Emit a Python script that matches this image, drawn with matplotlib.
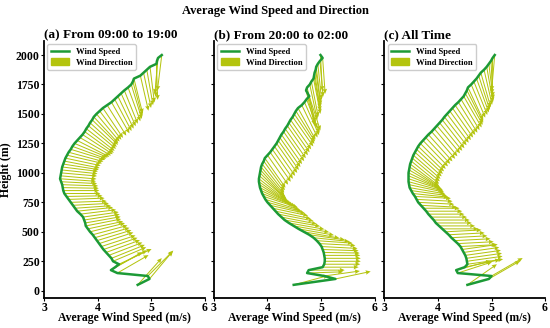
import numpy as np
import matplotlib.pyplot as plt
from matplotlib.lines import Line2D
from matplotlib.patches import Patch

plt.rcParams['font.family'] = ['Liberation Serif', 'DejaVu Serif']
plt.rcParams['font.weight'] = 'bold'
plt.rcParams['axes.labelweight'] = 'bold'
plt.rcParams['axes.titleweight'] = 'bold'

# measurement heights (m)
heights = [50, 100, 125, 150, 175, 200, 225, 250, 275, 300, 325, 350, 375, 400,
           425, 450, 475, 500, 525, 550, 575, 600, 625, 650, 675, 700, 725, 750,
           775, 800, 825, 850, 875, 900, 925, 950, 975, 1000, 1025, 1050, 1075,
           1100, 1125, 1150, 1175, 1200, 1225, 1250, 1275, 1300, 1325, 1350,
           1375, 1400, 1425, 1450, 1475, 1500, 1525, 1550, 1575, 1600, 1625,
           1650, 1675, 1700, 1725, 1750, 1775, 1800, 1825, 1850, 1875, 1900,
           1925, 1950, 1975, 2000]

# (a) 09:00 - 19:00
speed_day = [4.75, 4.97, 4.94, 4.37, 4.25, 4.33, 4.40, 4.29, 4.26, 4.21, 4.16,
             4.11, 4.07, 4.03, 3.99, 3.95, 3.91, 3.86, 3.82, 3.78, 3.77, 3.75,
             3.73, 3.68, 3.62, 3.58, 3.54, 3.50, 3.46, 3.42, 3.38, 3.36, 3.35,
             3.34, 3.32, 3.30, 3.31, 3.32, 3.33, 3.34, 3.36, 3.38, 3.40, 3.43,
             3.46, 3.50, 3.53, 3.57, 3.62, 3.67, 3.72, 3.76, 3.79, 3.83, 3.86,
             3.90, 3.93, 3.98, 4.04, 4.10, 4.18, 4.26, 4.32, 4.38, 4.44, 4.50,
             4.57, 4.63, 4.66, 4.68, 4.80, 4.86, 4.92, 4.98, 5.10, 5.11, 5.13,
             5.20]
dir_day = [222, 220, 225, 240, 240, 242, 245, 247, 248, 249, 250, 251, 252, 252,
           253, 254, 255, 256, 258, 259, 260, 261, 262, 263, 264, 266, 267, 268,
           268, 269, 270, 270, 271, 272, 273, 274, 275, 275, 276, 277, 279, 281,
           282, 283, 285, 287, 290, 293, 297, 300, 303, 306, 308, 310, 312, 314,
           317, 320, 323, 326, 328, 330, 332, 334, 336, 338, 340, 343, 345, 346,
           347, 348, 350, 353, 358, 2, 5, 7]

# (b) 20:00 - 02:00
speed_night = [4.49, 5.27, 5.06, 4.74, 4.77, 5.03, 5.06, 5.07, 5.07, 5.06, 5.05,
               5.03, 5.01, 4.97, 4.92, 4.86, 4.78, 4.68, 4.58, 4.49, 4.40, 4.32,
               4.26, 4.20, 4.15, 4.10, 4.05, 4.00, 3.96, 3.93, 3.90, 3.88, 3.86,
               3.85, 3.84, 3.84, 3.85, 3.86, 3.87, 3.88, 3.90, 3.93, 3.95, 4.00,
               4.05, 4.09, 4.13, 4.17, 4.20, 4.23, 4.26, 4.30, 4.33, 4.37, 4.40,
               4.43, 4.47, 4.50, 4.53, 4.57, 4.64, 4.69, 4.73, 4.78, 4.75, 4.72,
               4.74, 4.79, 4.82, 4.86, 4.87, 4.88, 4.90, 4.91, 4.94, 4.98, 5.03,
               4.99]
dir_night = [255, 258, 262, 268, 270, 270, 270, 270, 270, 270, 271, 272, 273, 273,
             274, 276, 278, 280, 280, 280, 280, 280, 281, 281, 282, 282, 283, 285,
             287, 288, 291, 295, 298, 302, 305, 308, 311, 315, 318, 320, 322, 324,
             325, 325, 325, 325, 325, 325, 325, 325, 325, 325, 325, 325, 325, 325,
             325, 326, 328, 331, 334, 336, 339, 342, 345, 346, 347, 348, 349, 349,
             350, 351, 352, 353, 354, 355, 356, 357]

# (c) all time
speed_all = [4.55, 4.95, 5.00, 4.37, 4.34, 4.50, 4.55, 4.54, 4.53, 4.51, 4.48,
             4.45, 4.42, 4.37, 4.31, 4.25, 4.20, 4.14, 4.08, 4.02, 3.96, 3.92,
             3.87, 3.82, 3.78, 3.73, 3.68, 3.63, 3.60, 3.57, 3.53, 3.50, 3.47,
             3.46, 3.45, 3.45, 3.45, 3.45, 3.46, 3.47, 3.48, 3.50, 3.52, 3.54,
             3.57, 3.60, 3.63, 3.67, 3.72, 3.77, 3.82, 3.88, 3.93, 3.98, 4.03,
             4.08, 4.12, 4.17, 4.22, 4.27, 4.32, 4.38, 4.43, 4.48, 4.51, 4.54,
             4.56, 4.62, 4.67, 4.72, 4.76, 4.80, 4.86, 4.91, 4.95, 4.99, 5.02,
             5.06]
dir_all = [235, 240, 240, 252, 255, 258, 262, 262, 262, 262, 262, 262, 267, 267,
           267, 267, 267, 267, 270, 270, 270, 270, 270, 270, 270, 270, 273, 273,
           273, 273, 276, 278, 280, 282, 285, 288, 292, 296, 300, 304, 307, 309,
           310, 311, 312, 313, 314, 315, 316, 317, 318, 319, 320, 320, 321, 322,
           322, 323, 324, 325, 326, 328, 329, 330, 331, 333, 335, 337, 338, 340,
           342, 344, 347, 350, 353, 357, 1, 5]

titles = ['(a) From 09:00 to 19:00', '(b) From 20:00 to 02:00', '(c) All Time']
panels = [(speed_day, dir_day), (speed_night, dir_night), (speed_all, dir_all)]

line_c = '#1c9a36'
arrow_c = '#b4c40e'

fig = plt.figure(figsize=(5.5, 3.28), dpi=100)
fig.suptitle('Average Wind Speed and Direction', fontsize=9, fontweight='bold',
             y=0.985)

lefts = [0.080, 0.389, 0.699]
for i, (spd, wd) in enumerate(panels):
    ax = fig.add_axes([lefts[i], 0.0924, 0.292, 0.7826])
    d = np.radians(wd)
    u = -np.sin(d)
    v = -np.cos(d)
    ax.quiver(spd, heights, u, v, angles='uv', scale_units='inches',
              scale=1 / 0.36, units='dots', width=1.0, headwidth=4.5,
              headlength=5, headaxislength=4.5, color=arrow_c, zorder=2)
    ax.plot(spd, heights, color=line_c, lw=1.8, zorder=3)

    ax.set_xlim(3, 6)
    ax.set_ylim(-59, 2119)
    ax.set_xticks([3, 4, 5, 6])
    ax.set_yticks(range(0, 2001, 250))
    for s in ['top', 'right']:
        ax.spines[s].set_visible(False)
    for s in ['left', 'bottom']:
        ax.spines[s].set_linewidth(1.3)
    ax.tick_params(labelsize=8.5, length=2.5, width=0.8, pad=0.5)
    if i > 0:
        ax.set_yticklabels([])
    else:
        ax.set_ylabel('Height (m)', fontsize=8.5, labelpad=3)
    ax.set_xlabel('Average Wind Speed (m/s)', fontsize=8.5, labelpad=-1)
    ax.set_title(titles[i], loc='left', fontsize=9.5, pad=2)

    handles = [Line2D([0], [0], color=line_c, lw=1.8),
               Patch(color=arrow_c)]
    ax.legend(handles, ['Wind Speed', 'Wind Direction'], loc='upper left',
              fontsize=6.2, borderaxespad=0.4, handlelength=2.1,
              labelspacing=0.3, edgecolor='#cccccc', framealpha=1)

fig.savefig('out.png', dpi=100)
